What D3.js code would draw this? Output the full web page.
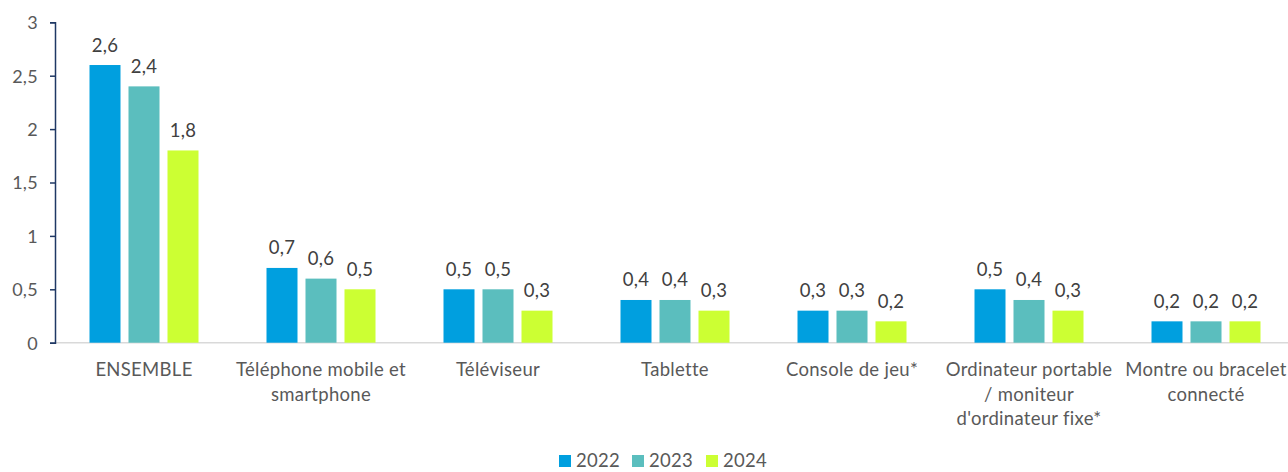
<!DOCTYPE html>
<html>
<head>
<meta charset="utf-8">
<script src="https://cdn.jsdelivr.net/npm/d3@7"></script>
<style>
  body { margin: 0; background: #fff; overflow: hidden; }
  svg { display: block; }
  svg text { font-family: Lato, "Open Sans", sans-serif; fill: #595959; letter-spacing: 0.3px; }
</style>
</head>
<body>
<svg></svg>
<script>
var width = 1288;
var height = 472;

// "\n" marks where the label wraps in the original
var categories = ["ENSEMBLE", "Téléphone mobile et\nsmartphone", "Téléviseur", "Tablette",
                  "Console de jeu*", "Ordinateur portable\n/ moniteur\nd'ordinateur fixe*", "Montre ou bracelet\nconnecté"];
var years = ["2022", "2023", "2024"];
var values2022 = [2.6, 0.7, 0.5, 0.4, 0.3, 0.5, 0.2];
var values2023 = [2.4, 0.6, 0.5, 0.4, 0.3, 0.4, 0.2];
var values2024 = [1.8, 0.5, 0.3, 0.3, 0.2, 0.3, 0.2];
var yTicks = [0, 0.5, 1, 1.5, 2, 2.5, 3];
var colors = ["#009fdf", "#5bbebe", "#ccff33"];

var series = [values2022, values2023, values2024];
var fmt = function(v) { return String(v).replace(".", ","); };

var svg = d3.select("svg")
    .attr("width", width)
    .attr("height", height);

var x = d3.scaleBand()
    .domain(categories)
    .range([55.5, 1294.5]);

var xInner = d3.scalePoint()
    .domain(years)
    .range([-39, 39]);

var y = d3.scaleLinear()
    .domain([0, 3])
    .range([342.7, 22.3]);

var barW = 31;

// baseline
svg.append("line")
    .attr("x1", 55).attr("x2", width)
    .attr("y1", y(0)).attr("y2", y(0))
    .attr("stroke", "#d9d9d9").attr("stroke-width", 1.5);

// y axis
var yAxis = d3.axisLeft(y)
    .tickValues(yTicks)
    .tickSize(5)
    .tickFormat(fmt);

var ya = svg.append("g")
    .attr("transform", "translate(55,0)")
    .call(yAxis);
ya.select(".domain").attr("stroke", "#1f3864").attr("stroke-width", 1.5);
ya.selectAll(".tick line").attr("stroke", "#1f3864").attr("stroke-width", 1.5);
ya.selectAll(".tick text")
    .attr("x", -17)
    .attr("dy", "0.35em")
    .style("font-size", "18px")
    .style("fill", "#595959");

// bars
var groups = svg.append("g").selectAll(".grp")
    .data(categories)
  .enter().append("g")
    .attr("class", "grp")
    .attr("transform", function(d) { return "translate(" + (x(d) + x.bandwidth() / 2) + ",0)"; });

years.forEach(function(yr, j) {
    groups.append("rect")
        .attr("x", function(d, i) { return xInner(yr) - barW / 2; })
        .attr("y", function(d, i) { return y(series[j][i]); })
        .attr("width", barW)
        .attr("height", function(d, i) { return y(0) - y(series[j][i]); })
        .attr("fill", colors[j]);

    groups.append("text")
        .attr("x", xInner(yr))
        .attr("y", function(d, i) { return y(series[j][i]) - 13.5; })
        .attr("text-anchor", "middle")
        .style("font-size", "18.5px")
        .style("fill", "#404040")
        .text(function(d, i) { return fmt(series[j][i]); });
});

// category labels
groups.append("text")
    .attr("y", 376)
    .attr("text-anchor", "middle")
    .style("font-size", "18.5px")
    .each(function(d) {
        var t = d3.select(this);
        d.split("\n").forEach(function(l, k) {
            t.append("tspan").attr("x", 0).attr("dy", k == 0 ? 0 : 24.5).text(l);
        });
    });

// legend at the bottom edge
var legend = svg.append("g").selectAll(".leg")
    .data(years)
  .enter().append("g")
    .attr("class", "leg")
    .attr("transform", function(d, i) { return "translate(" + [559, 632, 706][i] + ",454)"; });

legend.append("rect")
    .attr("y", 1)
    .attr("width", 12).attr("height", 12)
    .attr("fill", function(d, i) { return colors[i]; });

legend.append("text")
    .attr("x", 17).attr("y", 13)
    .style("font-size", "18.5px")
    .text(function(d) { return d; });
</script>
</body>
</html>
